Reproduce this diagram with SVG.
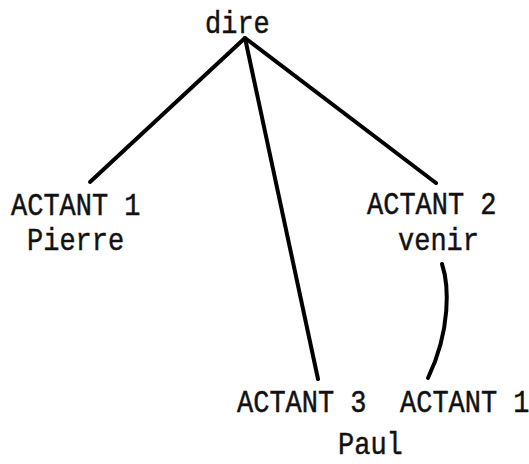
<svg xmlns="http://www.w3.org/2000/svg" width="529" height="464" viewBox="0 0 529 464">
  <style>
    .lbl { font-family: "Liberation Mono", "Courier New", monospace; font-size: 27px; fill: #111; stroke: #111; stroke-width: 0.4; }
    .edge { fill: none; stroke: #000; stroke-width: 4; stroke-linecap: round; }
  </style>
  <rect width="529" height="464" fill="#fff"/>
  <g id="connectors">
    <line class="edge" x1="245" y1="38" x2="90" y2="182"/>
    <line class="edge" x1="245" y1="38" x2="436" y2="183"/>
    <line class="edge" x1="245" y1="38" x2="318" y2="379"/>
    <path class="edge" d="M442,264 C449,285 451,330 428,378"/>
  </g>
  <!-- labels are drawn at 27px and stretched 15% vertically for a taller typewriter face -->
  <g id="dire"><text class="lbl" transform="translate(205,33) scale(1,1.15)">dire</text></g>
  <g id="actant1-pierre">
    <text class="lbl" transform="translate(11,215) scale(1,1.15)">ACTANT 1</text>
    <text class="lbl" transform="translate(27,250) scale(1,1.15)">Pierre</text>
  </g>
  <g id="actant2-venir">
    <text class="lbl" transform="translate(367,214) scale(1,1.15)">ACTANT 2</text>
    <text class="lbl" transform="translate(398,250) scale(1,1.15)">venir</text>
  </g>
  <g id="actant3"><text class="lbl" transform="translate(237,412) scale(1,1.15)">ACTANT 3</text></g>
  <g id="actant1-paul">
    <text class="lbl" transform="translate(400,412) scale(1,1.15)">ACTANT 1</text>
    <text class="lbl" transform="translate(338,454) scale(1,1.15)">Paul</text>
  </g>
</svg>
